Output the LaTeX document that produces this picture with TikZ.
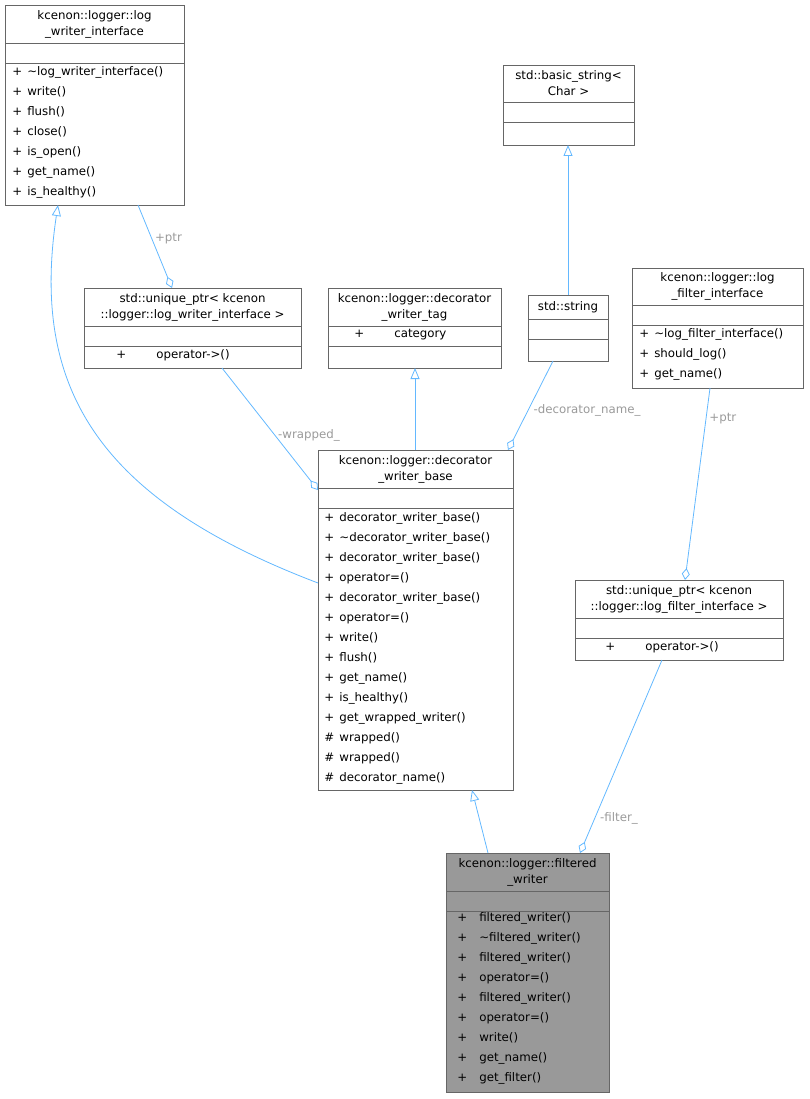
\documentclass[tikz,border=0pt]{standalone}
\usepackage{fontspec}
\setmainfont{DejaVu Sans}
\usetikzlibrary{arrows.meta,positioning}
\definecolor{edgeblue}{HTML}{63B8FF}
\definecolor{lblgray}{HTML}{9A9A9A}
\definecolor{boxline}{HTML}{666666}
\definecolor{hilite}{HTML}{999999}
\tikzset{
  cls/.style={rectangle,draw=boxline,anchor=north west,inner sep=0pt,outer sep=0pt},
  sepline/.style={draw=boxline},
  ttl/.style={align=center,font=\fontsize{11.8}{16}\selectfont,inner sep=0pt},
  mbr/.style={anchor=west,font=\fontsize{11.8}{13}\selectfont,inner sep=0pt},
  lbl/.style={text=lblgray,font=\fontsize{11.8}{13}\selectfont,inner sep=1pt},
  isa/.style={draw=edgeblue,line width=0.8pt,-{Triangle[open,length=11pt,width=9pt]}},
  hasa/.style={draw=edgeblue,line width=0.8pt,-{Diamond[open,length=12pt,width=8pt]}}
}
% name, x1, y1, x2, y2, fill
\newcommand\clsbox[6]{\node[cls,fill=#6,minimum width=#4pt-#2pt,minimum height=#5pt-#3pt] (#1) at (#2,#3) {};}
\newcommand\seps[4]{\draw[sepline] (#1,#3) -- (#2,#3) (#1,#4) -- (#2,#4);}
\begin{document}
\begin{tikzpicture}[x=1pt,y=-1pt,line width=0.8pt]
\useasboundingbox (0,0) rectangle (809,1099);

% log_writer_interface
\clsbox{lwi}{5}{5}{184}{205}{white}
\seps{5}{184}{43}{63}
\node[ttl] at (94.5,24) {kcenon::logger::log\\\_writer\_interface};
\foreach \m [count=\i from 0] in {\textasciitilde log\_writer\_interface(),write(),flush(),close(),is\_open(),get\_name(),is\_healthy()}
  \node[mbr] at (12,72+20*\i) {+\hspace{5pt}\m};

% basic_string
\clsbox{bstr}{503}{65}{634}{145}{white}
\seps{503}{634}{102}{122}
\node[ttl] at (568.5,83.5) {std::basic\_string<\\Char >};

% unique_ptr writer
\clsbox{ptrw}{84}{288}{301}{368}{white}
\seps{84}{301}{326}{346}
\node[ttl] at (192.5,307) {std::unique\_ptr< kcenon\\::logger::log\_writer\_interface >};
\node[mbr] at (116,355) {+\hspace{30pt}operator->()};

% decorator_writer_tag
\clsbox{tag}{328}{288}{501}{368}{white}
\seps{328}{501}{326}{346}
\node[ttl] at (414.5,307) {kcenon::logger::decorator\\\_writer\_tag};
\node[mbr] at (354,335) {+\hspace{30pt}category};

% std::string
\clsbox{str}{528}{295}{608}{361}{white}
\seps{528}{608}{319}{339}
\node[ttl] at (568,307) {std::string};

% log_filter_interface
\clsbox{lfi}{632}{268}{803}{388}{white}
\seps{632}{803}{305}{325}
\node[ttl] at (717.5,286.5) {kcenon::logger::log\\\_filter\_interface};
\foreach \m [count=\i from 0] in {\textasciitilde log\_filter\_interface(),should\_log(),get\_name()}
  \node[mbr] at (639,334+20*\i) {+\hspace{5pt}\m};

% decorator_writer_base
\clsbox{base}{318}{450}{513}{790}{white}
\seps{318}{513}{488}{508}
\node[ttl] at (415.5,469) {kcenon::logger::decorator\\\_writer\_base};
\foreach \v/\m [count=\i from 0] in {+/decorator\_writer\_base(),+/\textasciitilde decorator\_writer\_base(),+/decorator\_writer\_base(),+/operator=(),+/decorator\_writer\_base(),+/operator=(),+/write(),+/flush(),+/get\_name(),+/is\_healthy(),+/get\_wrapped\_writer(),\#/wrapped(),\#/wrapped(),\#/decorator\_name()}
  \node[mbr] at (324,518+20*\i) {\makebox[11pt][l]{\v}\hspace{4pt}\m};

% unique_ptr filter
\clsbox{ptrf}{575}{580}{783}{660}{white}
\seps{575}{783}{618}{638}
\node[ttl] at (679,599) {std::unique\_ptr< kcenon\\::logger::log\_filter\_interface >};
\node[mbr] at (605,647) {+\hspace{30pt}operator->()};

% filtered_writer
\clsbox{fw}{446}{853}{609}{1092}{hilite}
\seps{446}{609}{891}{911}
\node[ttl] at (527.5,872) {kcenon::logger::filtered\\\_writer};
\foreach \m [count=\i from 0] in {filtered\_writer(),\textasciitilde filtered\_writer(),filtered\_writer(),operator=(),filtered\_writer(),operator=(),write(),get\_name(),get\_filter()}
  \node[mbr] at (457,918+20*\i) {+\hspace{12pt}\m};

% connectors
\draw[isa] (base.west |- 0,583) .. controls (100,500) and (30,390) .. (58,205 |- lwi.south);
\draw[hasa] (138,0 |- lwi.south) -- (172,0 |- ptrw.north) node[lbl,pos=0.4,right=2pt] {+ptr};
\draw[hasa] (222,0 |- ptrw.south) -- (base.west |- 0,490) node[lbl,pos=0.55,right=2pt] {-wrapped\_};
\draw[isa] (415,0 |- base.north) -- (415,0 |- tag.south);
\draw[isa] (568,0 |- str.north) -- (568,0 |- bstr.south);
\draw[hasa] (553,0 |- str.south) -- (508,0 |- base.north) node[lbl,pos=0.55,right=4pt] {-decorator\_name\_};
\draw[hasa] (710,0 |- lfi.south) -- (685,0 |- ptrf.north) node[lbl,pos=0.16,right=2pt] {+ptr};
\draw[isa] (488,0 |- fw.north) -- (472,0 |- base.south);
\draw[hasa] (662,0 |- ptrf.south) -- (580,0 |- fw.north) node[lbl,pos=0.82,right=4pt] {-filter\_};
\end{tikzpicture}
\end{document}
